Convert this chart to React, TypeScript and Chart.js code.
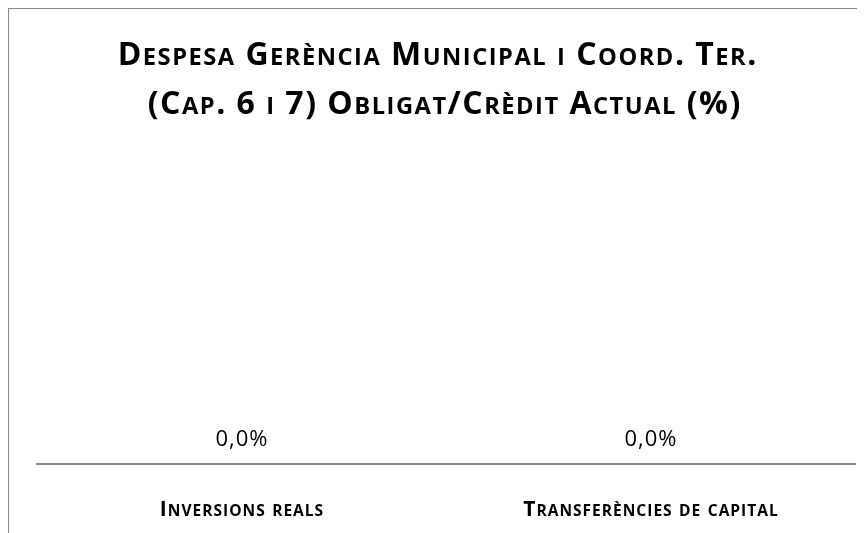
import React, { useEffect, useRef } from "react";
import { Chart, registerables } from "chart.js";

Chart.register(...registerables);

const categories = ["Inversions reals", "Transferències de capital"];
const values = [0.0, 0.0];
const titleLines = ["Despesa Gerència Municipal i Coord. Ter.", "(Cap. 6 i 7) Obligat/Crèdit Actual (%)"];

const FAMILY = "'Open Sans', Lato, sans-serif";
const SC_RATIO = 0.74;

const formatPct = (v: number) => v.toFixed(1).replace(".", ",") + "%";

type Glyph = { t: string; font: string; w: number };

function layoutText(ctx: CanvasRenderingContext2D, text: string, size: number, weight: string, smallCaps: boolean, spacing: number) {
  const glyphs: Glyph[] = [];
  let total = 0;
  const chars = Array.from(text);
  chars.forEach((ch, i) => {
    const small = smallCaps && ch !== ch.toUpperCase();
    const t = small ? ch.toUpperCase() : ch;
    const font = `${weight} ${small ? size * SC_RATIO : size}px ${FAMILY}`;
    ctx.font = font;
    const w = ctx.measureText(t).width + (i < chars.length - 1 ? spacing : 0);
    glyphs.push({ t, font, w });
    total += w;
  });
  return { glyphs, total };
}

function drawText(ctx: CanvasRenderingContext2D, text: string, cx: number, baseline: number, size: number, weight: string, smallCaps: boolean, spacing: number) {
  const { glyphs, total } = layoutText(ctx, text, size, weight, smallCaps, spacing);
  let x = cx - total / 2;
  ctx.textAlign = "left";
  ctx.textBaseline = "alphabetic";
  glyphs.forEach((g) => {
    ctx.font = g.font;
    ctx.fillText(g.t, x, baseline);
    x += g.w;
  });
}

const textPlugin = {
  id: "smallCapsText",
  afterDraw(chart: any) {
    const ctx = chart.ctx as CanvasRenderingContext2D;
    ctx.save();
    ctx.fillStyle = "#000";
    const cx = chart.width / 2;
    drawText(ctx, titleLines[0], cx, 56, 32, "bold", true, 1.5);
    drawText(ctx, titleLines[1], cx + 7, 105, 32, "bold", true, 1.5);
    const xs = chart.scales.x;
    categories.forEach((c, i) => {
      drawText(ctx, c, xs.getPixelForTick(i), 507, 21, "bold", true, 1);
    });
    const meta = chart.getDatasetMeta(0);
    meta.data.forEach((el: any, i: number) => {
      drawText(ctx, formatPct(values[i]), el.x, el.y - 18, 22, "normal", false, 1);
    });
    ctx.restore();
  },
};

export default function App() {
  const ref = useRef<HTMLCanvasElement | null>(null);
  useEffect(() => {
    if (!ref.current) return;
    const chart = new Chart(ref.current, {
      type: "bar",
      data: {
        labels: categories,
        datasets: [
          {
            data: values,
            backgroundColor: "#4F81BD",
            borderWidth: 0,
          },
        ],
      },
      options: {
        animation: false,
        responsive: true,
        maintainAspectRatio: false,
        layout: { padding: { left: 28, right: 10, top: 130, bottom: 8 } },
        plugins: {
          legend: { display: false },
          tooltip: { enabled: false },
          title: { display: false },
        },
        scales: {
          x: {
            grid: { display: false },
            border: { display: true, color: "#898989", width: 2 },
            ticks: {
              color: "rgba(0,0,0,0)",
              padding: 18,
              font: { family: FAMILY, size: 14, weight: "bold" },
            },
          },
          y: { display: false, min: 0, max: 1 },
        },
      },
      plugins: [textPlugin],
    });
    return () => chart.destroy();
  }, []);
  return (
    <div
      style={{
        width: 856,
        height: 524,
        borderTop: "1px solid #8a8a8a",
        borderLeft: "1px solid #8a8a8a",
        position: "relative",
      }}
    >
      <canvas ref={ref} />
    </div>
  );
}
